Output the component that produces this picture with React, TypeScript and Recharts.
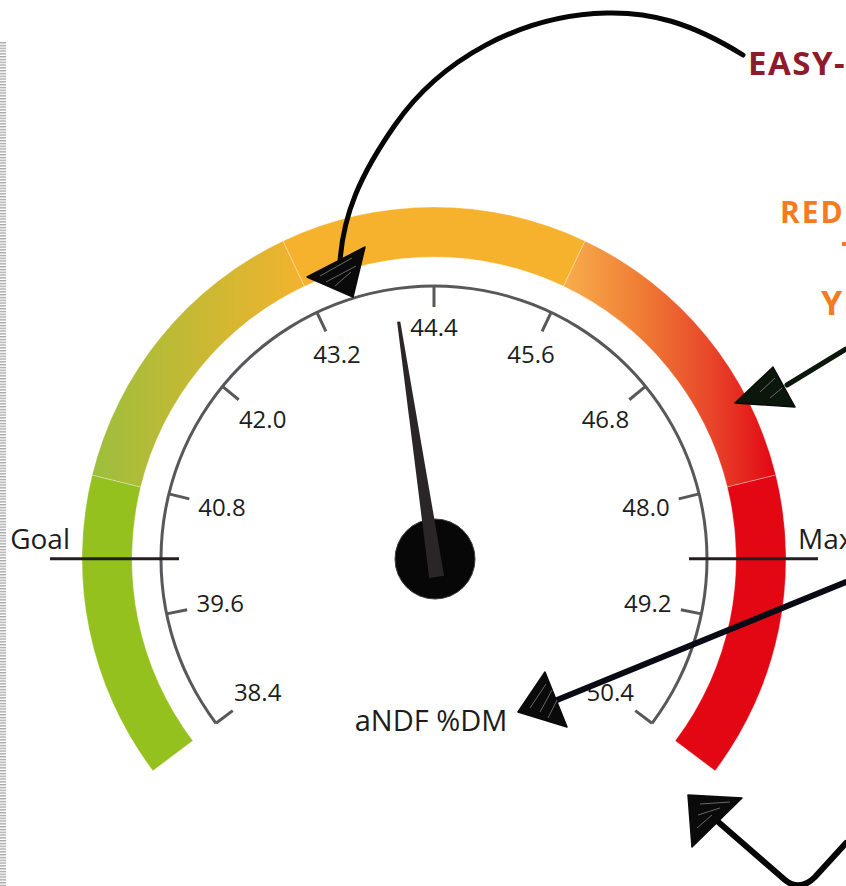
import React from 'react';
import { PieChart, Pie, Cell, RadialBarChart, RadialBar, PolarAngleAxis } from 'recharts';

// gauge scale
const bandLimits = [38.4, 40.8, 43.2, 45.6, 48.0, 50.4];
const bandColors = ['#95C11F', 'url(#greenToYellow)', '#F6B22D', 'url(#orangeToRed)', '#E30613'];
const scaleTicks = [38.4, 39.6, 40.8, 42.0, 43.2, 44.4, 45.6, 46.8, 48.0, 49.2, 50.4];
const markerValues = [40.15, 48.65];
const markerLabels = ['Goal', 'Max'];
const needleValues = [44.0];
const axisTitle = 'aNDF %DM';

const W = 846;
const H = 886;
const CX = 434;
const CY = 559;
const START = 217;
const END = -37;
const RAD = Math.PI / 180;
const FONT = '"Open Sans", "Noto Sans", sans-serif';

const bandData = bandLimits.slice(1).map((to, i) => ({ name: `band${i}`, value: to - bandLimits[i] }));
const ringData = [{ name: 'scale', value: bandLimits[bandLimits.length - 1] - bandLimits[0] }];
const needleData = needleValues.map((v) => ({ name: axisTitle, value: v }));

const toXY = (r: number, angle: number) => ({
  x: CX + r * Math.cos(angle * RAD),
  y: CY - r * Math.sin(angle * RAD),
});

const GaugeTick = (props: any) => {
  const { payload } = props;
  const angle: number = payload.coordinate;
  const value: number = payload.value;
  const mi = markerValues.indexOf(value);
  if (mi >= 0) {
    const a = toXY(255, angle);
    const b = toXY(384, angle);
    const t = toXY(364, angle);
    const right = Math.cos(angle * RAD) > 0;
    return (
      <g>
        <line x1={a.x} y1={a.y} x2={b.x} y2={b.y} stroke="#231F20" strokeWidth={3} />
        <text x={t.x} y={t.y - 10} textAnchor={right ? 'start' : 'end'} fontSize={28} fontFamily={FONT} fill="#1d1d1b">
          {markerLabels[mi]}
        </text>
      </g>
    );
  }
  const p1 = toXY(273, angle);
  const p2 = toXY(252, angle);
  const rl = 232 - 14 * Math.abs(Math.cos(angle * RAD));
  const l = toXY(rl, angle);
  return (
    <g>
      <line x1={p1.x} y1={p1.y} x2={p2.x} y2={p2.y} stroke="#58585A" strokeWidth={3} />
      <text x={l.x} y={l.y} dy="0.36em" textAnchor="middle" fontSize={24} fontFamily={FONT} fill="#1d1d1b">
        {value.toFixed(1)}
      </text>
    </g>
  );
};

const Needle = (props: any) => {
  const { cx, cy, endAngle } = props;
  const a = endAngle * RAD;
  const ux = Math.cos(a);
  const uy = -Math.sin(a);
  const px = -uy;
  const py = ux;
  const tipR = 240;
  const tailR = -18;
  const tipW = 1.6;
  const tailW = 7.5;
  const pts = [
    [cx + ux * tipR + px * tipW, cy + uy * tipR + py * tipW],
    [cx + ux * tipR - px * tipW, cy + uy * tipR - py * tipW],
    [cx + ux * tailR - px * tailW, cy + uy * tailR - py * tailW],
    [cx + ux * tailR + px * tailW, cy + uy * tailR + py * tailW],
  ]
    .map((p) => p.join(','))
    .join(' ');
  return (
    <g>
      <circle cx={cx + 1} cy={cy} r={40} fill="#070707" stroke="#3a3a3a" strokeWidth={1} />
      <polygon points={pts} fill="#2a2627" />
    </g>
  );
};

const Annotations = () => (
  <svg width={W} height={H} style={{ position: 'absolute', left: 0, top: 0, pointerEvents: 'none' }}>
    <defs>
      <pattern id="stripes" width={6} height={2.8} patternUnits="userSpaceOnUse">
        <rect x={0} y={0} width={6} height={1.4} fill="#a8a8a8" />
      </pattern>
    </defs>
    <rect x={0} y={41} width={6} height={H - 41} fill="url(#stripes)" />

    <text x={431} y={731} textAnchor="middle" fontSize={29} fontFamily={FONT} fill="#1d1d1b">
      {axisTitle}
    </text>

    {/* handwritten notes, cut at the right edge like the source */}
    <text x={748} y={75} fontSize={33} fontWeight={700} letterSpacing={1.5} fontFamily={FONT} fill="#8E1B2A">
      EASY-
    </text>
    <text x={780} y={223} fontSize={30} fontWeight={700} letterSpacing={2} fontFamily={FONT} fill="#F47B20">
      RED
    </text>
    <rect x={842} y={242} width={4} height={4} fill="#F47B20" />
    <text x={821} y={315} fontSize={34} fontWeight={700} letterSpacing={1} fontFamily={FONT} fill="#F47B20">
      YE
    </text>

    {/* arrows */}
    <g fill="none" stroke="#060606" strokeWidth={5} strokeLinecap="round">
      <path d="M 743 55 C 690 22, 650 12, 607 13 C 520 15, 440 60, 395 125 C 360 175, 343 215, 340 262" />
      <path d="M 846 349 L 787 385" stroke="#0b170b" />
      <path d="M 846 582 L 557 700" strokeWidth={6} stroke="#0a0a14" />
      <path d="M 846 843 L 815 877 Q 800 892 785 880 L 716 820" strokeWidth={6} />
    </g>
    <g fill="#0a0a0a" stroke="#0a0a0a" strokeWidth={1.5} strokeLinejoin="round">
      <polygon points="307,277 365,247 353,297" />
      <polygon points="735,403 773,367 795,407" fill="#0b170b" />
      <polygon points="518,712 545,672 567,727" />
      <polygon points="688,795 742,798 692,847" />
    </g>
    <g stroke="#ffffff" strokeWidth={0.7} strokeOpacity={0.55} fill="none">
      <path d="M 320 276 L 352 258 M 326 282 L 356 266 M 335 286 L 351 272" />
      <path d="M 530 708 L 546 684 M 540 712 L 552 690 M 548 718 L 557 700" />
      <path d="M 700 804 L 730 802 M 698 815 L 720 808 M 697 828 L 712 815" />
      <path d="M 760 392 L 775 378 M 770 398 L 782 388" />
    </g>
  </svg>
);

export default function App() {
  return (
    <div style={{ position: 'absolute', left: 0, top: 0, width: W, height: H, background: '#ffffff', overflow: 'hidden' }}>
      <div style={{ position: 'absolute', left: 0, top: 0 }}>
        <PieChart width={W} height={H} margin={{ top: 0, right: 0, bottom: 0, left: 0 }}>
          <defs>
            <linearGradient id="greenToYellow" x1="0" y1="0" x2="1" y2="0">
              <stop offset="0%" stopColor="#9CBE3D" />
              <stop offset="50%" stopColor="#C8B933" />
              <stop offset="100%" stopColor="#F4B22E" />
            </linearGradient>
            <linearGradient id="orangeToRed" x1="0" y1="0" x2="1" y2="0">
              <stop offset="0%" stopColor="#F7AE4C" />
              <stop offset="35%" stopColor="#F07E35" />
              <stop offset="70%" stopColor="#E8452A" />
              <stop offset="100%" stopColor="#E30613" />
            </linearGradient>
          </defs>
          <Pie
            data={bandData}
            dataKey="value"
            cx={CX}
            cy={CY}
            startAngle={START}
            endAngle={END}
            innerRadius={302}
            outerRadius={352}
            stroke="#ffffff"
            strokeWidth={0.5}
            strokeOpacity={0.6}
            isAnimationActive={false}
          >
            {bandData.map((d, i) => (
              <Cell key={d.name} fill={bandColors[i]} />
            ))}
          </Pie>
          <Pie
            data={ringData}
            dataKey="value"
            cx={CX}
            cy={CY}
            startAngle={START}
            endAngle={END}
            innerRadius={271.5}
            outerRadius={274.5}
            fill="#58585A"
            stroke="none"
            isAnimationActive={false}
          />
        </PieChart>
      </div>
      <div style={{ position: 'absolute', left: 0, top: 0 }}>
        <RadialBarChart
          width={W}
          height={H}
          cx={CX}
          cy={CY}
          startAngle={START}
          endAngle={END}
          innerRadius={0}
          outerRadius={273}
          data={needleData}
          margin={{ top: 0, right: 0, bottom: 0, left: 0 }}
        >
          <PolarAngleAxis
            type="number"
            dataKey="value"
            domain={[bandLimits[0], bandLimits[bandLimits.length - 1]]}
            ticks={[...scaleTicks, ...markerValues]}
            tick={GaugeTick}
            tickLine={false}
            axisLine={false}
            allowDataOverflow
          />
          <RadialBar dataKey="value" shape={Needle} isAnimationActive={false} />
        </RadialBarChart>
      </div>
      <Annotations />
    </div>
  );
}
